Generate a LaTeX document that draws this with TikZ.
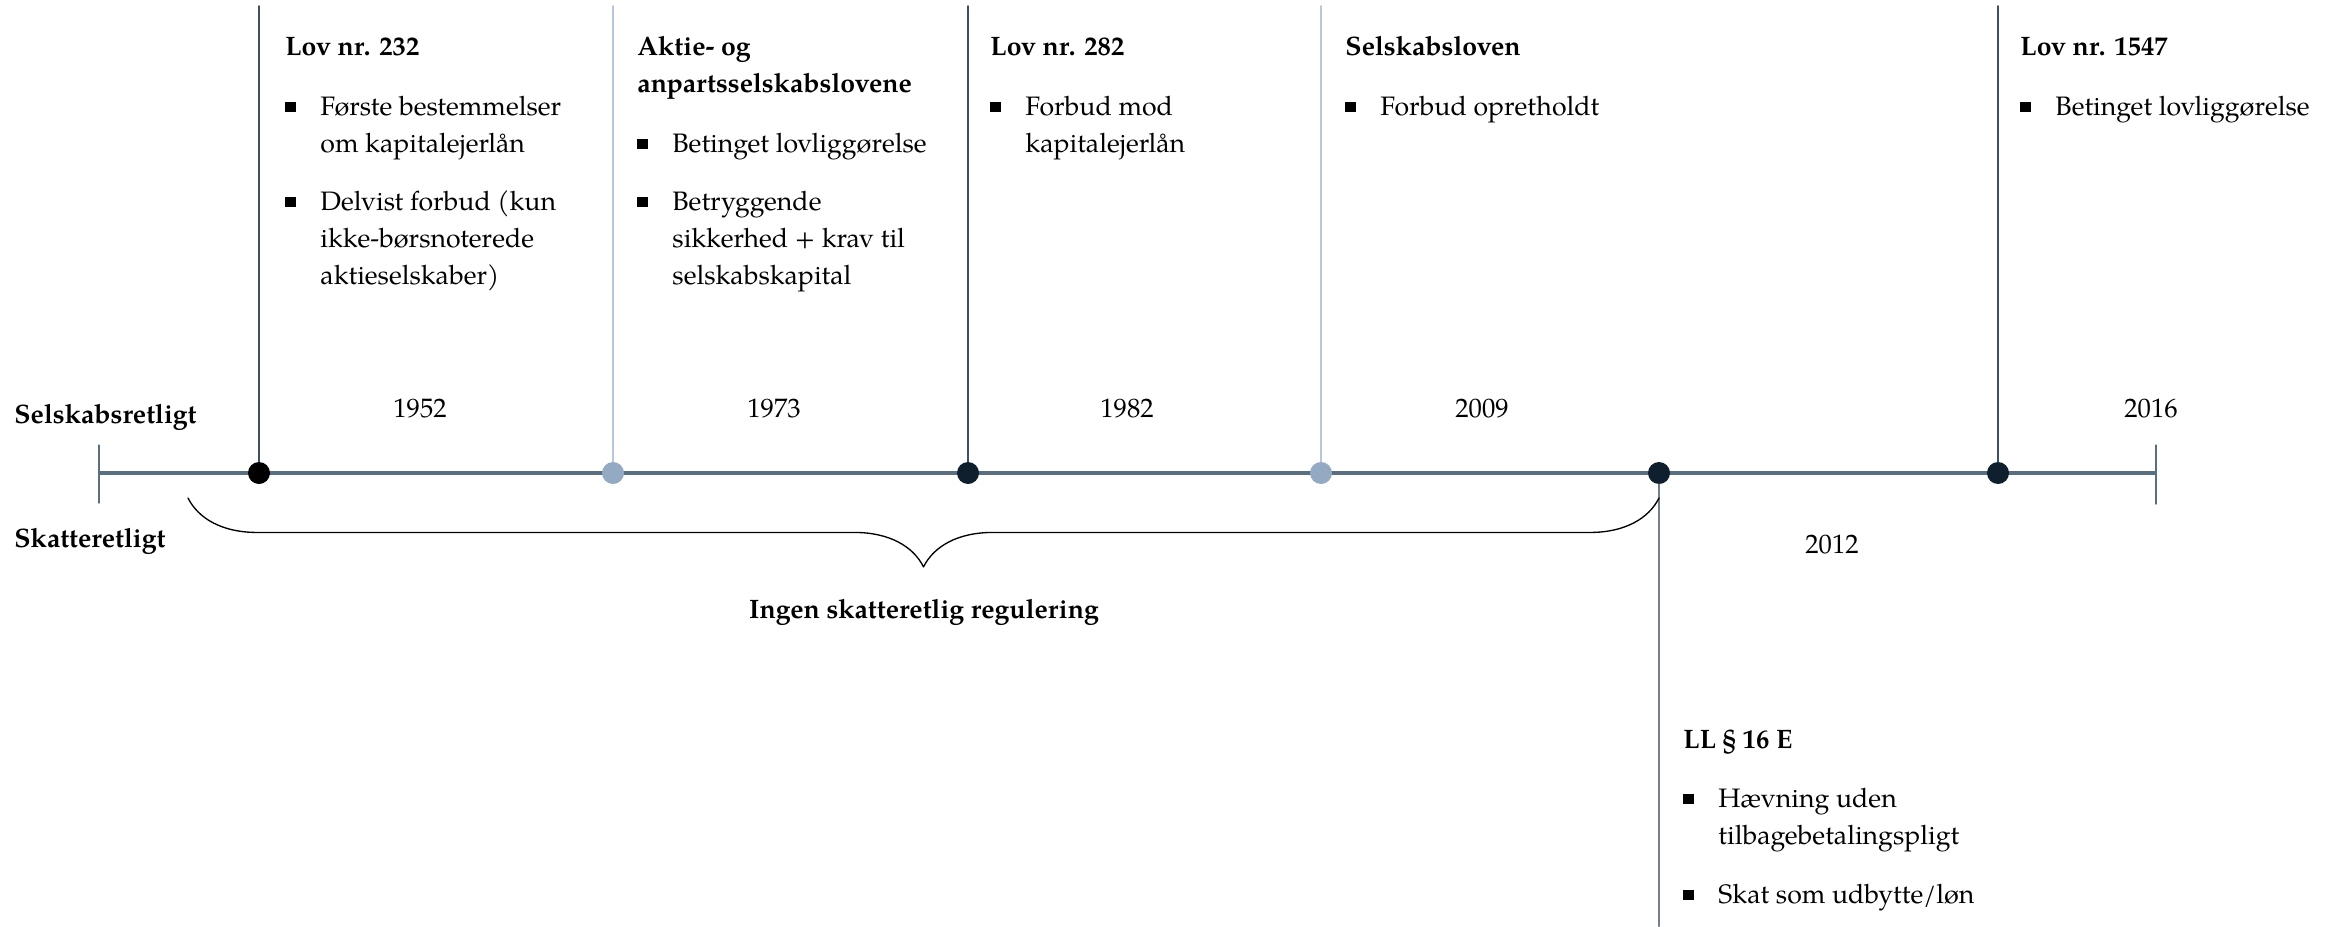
\documentclass[tikz,border=0pt]{standalone}
\usepackage{fontspec}
\setmainfont{texgyrepagella}[Extension=.otf, UprightFont=*-regular, BoldFont=*-bold, ItalicFont=*-italic, BoldItalicFont=*-bolditalic]
\usetikzlibrary{decorations.pathreplacing}

\definecolor{akse}{HTML}{5A6E81}
\definecolor{lysprik}{HTML}{94AAC2}
\definecolor{navy}{HTML}{0F1F2E}
\definecolor{moerk}{HTML}{3D5064}
\definecolor{lys}{HTML}{B5C8DC}
\definecolor{graa}{HTML}{737F8B}

% punkt med firkantet bullet
\newcommand\pkt[1]{\makebox[15.75pt][l]{\rule[1.3pt]{4.6pt}{4.6pt}}\begin{tabular}[t]{@{}l@{}}#1\end{tabular}}

\begin{document}
\begin{tikzpicture}[x=0.45pt, y=-0.45pt, line cap=round, line join=round, font=\fontsize{12}{16.65}\selectfont]
\tikzset{overskrift/.style={anchor=base west, inner sep=0pt, font=\fontsize{12}{16.65}\selectfont\bfseries},
  punkt/.style={anchor=base west, inner sep=0pt},
  aar/.style={anchor=base, inner sep=0pt},
  prik/.style={circle, inner sep=0pt, minimum size=9.9pt}}
\useasboundingbox (0,0) rectangle (2338,926);
% tidslinje
\coordinate (start) at (99,473);
\coordinate (slut) at (2156,473);
\draw[akse, line width=1.8pt, line cap=butt] (start) -- (slut);
\draw[akse, line width=0.6pt] (99,445) -- (99,503) (2156,445) -- (2156,504);
% selskabsretlige punkter
\foreach \n/\px/\pc/\lc in {1/259/black/moerk, 2/613/lysprik/lys, 3/968/navy/moerk, 4/1321/lysprik/lys, 6/1998/navy/moerk}{
  \node[prik, fill=\pc] (p\n) at (\px,473) {};
  \coordinate (top\n) at (\px,6);
  \draw[\lc, line width=0.8pt] (top\n) -- (p\n.north);
}
% skatteretligt punkt
\node[prik, fill=navy] (p5) at (1659,473) {};
\coordinate (bund) at (1659,926);
\draw[graa, line width=0.9pt] (p5.south) -- (bund);
% aarstal
\foreach \navn/\px/\py in {1952/420/417, 1973/774/417, 1982/1127/417, 2009/1482/417, 2016/2151/417, 2012/1832/553}
  \node[aar] (y\navn) at (\px,\py) {\navn};
\node[overskrift] (selsk) at (14,423) {Selskabsretligt};
\node[overskrift] (skat) at (14,547) {Skatteretligt};
% klamme
\coordinate (kl) at (188,498);
\coordinate (kr) at (1659,498);
\draw[decorate, decoration={brace, mirror, amplitude=31pt}, line width=0.6pt] (kl) -- (kr);
\node[overskrift, anchor=base] (ingen) at (924,618) {Ingen skatteretlig regulering};
% love
\node[overskrift] (h1) at (285,55) {Lov nr. 232};
\node[punkt] (b11) at (285,115) {\pkt{Første bestemmelser\\om kapitalejerlån}};
\node[punkt] (b12) at (285,210) {\pkt{Delvist forbud (kun\\ikke-børsnoterede\\aktieselskaber)}};
\node[overskrift] (h2) at (637,55) {\begin{tabular}[t]{@{}l@{}}Aktie- og\\anpartsselskabslovene\end{tabular}};
\node[punkt] (b21) at (637,152) {\pkt{Betinget lovliggørelse}};
\node[punkt] (b22) at (637,210) {\pkt{Betryggende\\sikkerhed + krav til\\selskabskapital}};
\node[overskrift] (h3) at (990,55) {Lov nr. 282};
\node[punkt] (b31) at (990,115) {\pkt{Forbud mod\\kapitalejerlån}};
\node[overskrift] (h4) at (1345,55) {Selskabsloven};
\node[punkt] (b41) at (1345,115) {\pkt{Forbud opretholdt}};
\node[overskrift] (h6) at (2020,55) {Lov nr. 1547};
\node[punkt] (b61) at (2020,115) {\pkt{Betinget lovliggørelse}};
\node[overskrift] (h5) at (1683,748) {LL § 16 E};
\node[punkt] (b51) at (1683,807) {\pkt{Hævning uden\\tilbagebetalingspligt}};
\node[punkt] (b52) at (1683,903) {\pkt{Skat som udbytte/løn}};
\end{tikzpicture}
\end{document}
